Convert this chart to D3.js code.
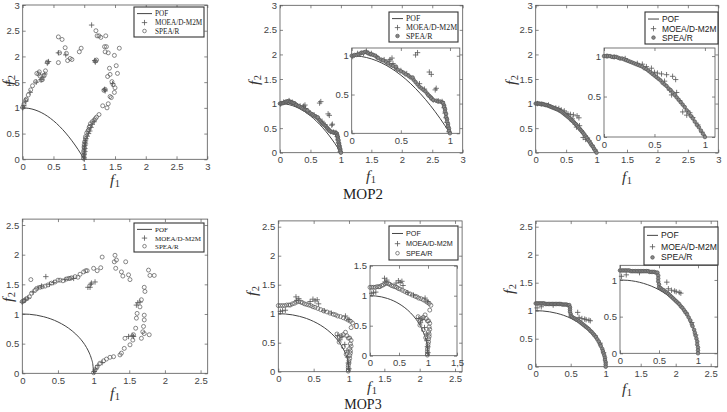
<!DOCTYPE html>
<html><head><meta charset="utf-8">
<script src="https://cdn.jsdelivr.net/npm/d3@7"></script>
<style>body{margin:0;background:#fff}svg{display:block}</style>
</head><body>
<script>
// ---------- tick values / labels ----------
const ticks0to3 = [0,0.5,1,1.5,2,2.5,3];
const ticks0to25 = [0,0.5,1,1.5,2,2.5];
const insetTicks = [0,0.5,1];
const insetTicks15 = [0,0.5,1,1.5];
const insetTickLabels15 = ["0","0.5","1","1,5"];
const seriesNames = ["POF","MOEA/D-M2M","SPEA/R"];
const titles = ["MOP2","MOP3"];

// ---------- Pareto optimal fronts ----------
const pofMOP2 = [[0,1],[0.1,0.99],[0.2,0.96],[0.3,0.91],[0.4,0.84],[0.5,0.75],[0.6,0.64],[0.7,0.51],[0.8,0.36],[0.9,0.19],[1,0]];
const pofMOP3 = [[0,1],[0.1,0.995],[0.2,0.98],[0.3,0.954],[0.4,0.917],[0.5,0.866],[0.6,0.8],[0.7,0.714],[0.8,0.6],[0.85,0.527],[0.9,0.436],[0.94,0.341],[0.97,0.243],[0.99,0.141],[1,0]];

// ---------- MOP2, panel A ----------
const mop2A_m2m = [[1.12,2.61],[0.42,1.90],[0.40,1.87],[1.17,1.92],[1.18,1.89],[1.33,1.36],[1.34,1.33],[1.46,1.47],[0.70,2.03],[0.58,2.07],[0.30,1.55],[0.33,1.60],[0.36,1.66],[0.05,1.13],[0.02,1.04],[0.00,1.00],[0.12,1.30],[0.22,1.50],
[1.00,0.00],[1.00,0.03],[0.99,0.06],[1.00,0.09],[1.00,0.12],[1.01,0.15],[1.00,0.18],[1.01,0.21],[1.00,0.24],[1.01,0.27],[1.02,0.30],[1.01,0.33],[1.02,0.36],[1.03,0.40],[1.05,0.45],[1.07,0.50],[1.09,0.55],[1.11,0.62],[1.13,0.68],[1.16,0.73]];
const mop2A_spea = [[0.00,1.01],[0.02,1.07],[0.05,1.15],[0.06,1.17],[0.09,1.25],[0.13,1.35],[0.16,1.43],[0.21,1.51],[0.23,1.67],[0.26,1.66],[0.28,1.62],[0.27,1.70],[0.30,1.54],[0.32,1.55],[0.35,1.63],[0.37,1.72],[0.40,1.89],
[0.58,2.38],[0.64,2.33],[0.60,2.07],[0.58,1.88],[0.69,2.17],[0.71,2.06],[0.73,1.92],[0.77,1.96],[0.80,1.94],[0.92,2.09],[0.95,2.16],
[1.19,2.50],[1.21,2.40],[1.24,2.40],[1.27,2.37],[1.35,2.40],[1.33,2.19],[1.36,2.19],[1.34,2.09],[1.39,2.07],[1.49,2.02],[1.52,1.82],[1.54,1.67],[1.57,2.16],[1.41,1.77],[1.38,1.61],[1.42,1.65],[1.45,1.51],[1.47,1.45],[1.50,1.39],[1.49,1.30],[1.42,1.22],[1.44,1.20],[1.30,1.04],[1.37,1.00],[1.39,1.08],[1.32,1.34],[1.34,1.36],[1.18,1.91],[1.20,1.93],
[0.99,0.02],[0.99,0.08],[0.99,0.15],[1.00,0.22],[1.00,0.28],[1.01,0.34],[1.02,0.40],[1.02,0.44],[1.04,0.51],[1.06,0.55],[1.07,0.57],[1.08,0.62],[1.09,0.64],[1.10,0.69],[1.13,0.73],[1.16,0.76],[1.18,0.79],[1.20,0.82],[1.24,0.87]];

// ---------- MOP2, panel B ----------
const mop2B_m2m = [[0.01,0.99],[0.06,1.03],[0.12,1.03],[0.15,1.06],[0.20,1.03],[0.25,0.99],[0.33,0.95],[0.39,0.95],[0.41,0.97],[0.42,0.90],[0.38,0.93],[0.50,0.81],[0.56,0.77],[0.65,1.01],[0.67,1.04],[0.69,0.64],[0.74,0.57],[0.79,0.79],[0.81,0.76],[0.85,0.56],[0.86,0.58],[0.83,0.43],[0.80,0.47],[0.88,0.42],[0.92,0.41],[0.94,0.33],[0.95,0.26],[0.96,0.20],[0.97,0.14],[0.98,0.08],[0.99,0.02]];
const mop2B_spea = [[0.00,1.00],[0.02,1.00],[0.03,1.01],[0.05,1.01],[0.07,1.02],[0.09,1.03],[0.10,1.04],[0.12,1.04],[0.14,1.05],[0.16,1.04],[0.17,1.03],[0.19,1.02],[0.20,1.02],[0.22,1.01],[0.24,1.00],[0.26,0.98],[0.27,0.97],[0.30,0.95],[0.32,0.94],[0.35,0.92],[0.37,0.90],[0.40,0.88],[0.42,0.87],[0.45,0.84],[0.47,0.82],[0.50,0.80],[0.53,0.78],[0.55,0.76],[0.58,0.74],[0.60,0.72],[0.63,0.69],[0.65,0.66],[0.67,0.63],[0.69,0.60],[0.71,0.58],[0.73,0.56],[0.75,0.54],[0.77,0.51],[0.78,0.49],[0.80,0.47],[0.81,0.45],[0.83,0.43],[0.86,0.42],[0.88,0.41],[0.90,0.41],[0.92,0.40],[0.93,0.39],[0.94,0.36],[0.94,0.34],[0.95,0.31],[0.95,0.28],[0.96,0.25],[0.96,0.21],[0.97,0.18],[0.97,0.15],[0.98,0.12],[0.98,0.09],[0.99,0.06],[0.99,0.03],[1.00,0.00],[0.45,0.86],[0.62,0.72]];

// ---------- MOP2, panel C ----------
const mop2C_m2m = [[0.03,1.00],[0.10,0.99],[0.21,0.97],[0.33,0.91],[0.38,0.90],[0.42,0.87],[0.47,0.85],[0.50,0.80],[0.53,0.79],[0.57,0.78],[0.60,0.69],[0.62,0.77],[0.65,0.58],[0.67,0.52],[0.68,0.75],[0.71,0.71],[0.72,0.55],[0.75,0.45],[0.78,0.31],[0.82,0.27],[0.85,0.30],[0.88,0.24],[0.93,0.15],[0.97,0.06]];
const mop2C_spea = [[0.00,1.00],[0.02,1.00],[0.04,1.00],[0.06,1.00],[0.08,0.99],[0.10,0.99],[0.12,0.99],[0.14,0.98],[0.16,0.97],[0.18,0.97],[0.20,0.96],[0.22,0.95],[0.24,0.94],[0.26,0.93],[0.28,0.92],[0.30,0.91],[0.32,0.90],[0.34,0.89],[0.36,0.88],[0.38,0.87],[0.40,0.85],[0.42,0.84],[0.44,0.82],[0.46,0.80],[0.48,0.78],[0.50,0.76],[0.52,0.74],[0.54,0.72],[0.56,0.70],[0.58,0.67],[0.60,0.65],[0.62,0.63],[0.64,0.60],[0.66,0.58],[0.68,0.55],[0.70,0.52],[0.72,0.49],[0.74,0.46],[0.76,0.43],[0.78,0.40],[0.80,0.37],[0.82,0.33],[0.84,0.30],[0.86,0.26],[0.88,0.23],[0.90,0.19],[0.92,0.15],[0.94,0.12],[0.96,0.08],[0.98,0.04],[1.00,0.00]];

// ---------- MOP3, panel A ----------
const mop3A_m2m = [[0.00,1.20],[0.04,1.24],[0.08,1.27],[0.15,1.37],[0.22,1.44],[0.27,1.47],[0.33,1.63],[0.38,1.50],[0.44,1.53],[0.60,1.58],[0.72,1.60],[0.92,1.45],[0.95,1.45],[0.96,1.50],[0.97,1.52],[1.02,1.54],[1.60,1.15],[1.62,1.19],[1.65,1.20],[1.56,0.62],[1.54,0.64],[1.49,0.62],[1.01,0.03],[1.03,0.07],[1.06,0.13],[1.12,0.18]];
const mop3A_spea = [[0.00,1.21],[0.02,1.22],[0.03,1.23],[0.06,1.26],[0.10,1.29],[0.12,1.58],[0.13,1.35],[0.18,1.40],[0.20,1.43],[0.25,1.45],[0.28,1.46],[0.32,1.47],[0.36,1.49],[0.41,1.52],[0.46,1.54],[0.50,1.57],[0.53,1.57],[0.57,1.56],[0.62,1.59],[0.65,1.60],[0.67,1.60],[0.69,1.61],[0.74,1.63],[0.78,1.62],[0.81,1.67],[0.86,1.71],[0.89,1.73],[0.91,1.73],[1.00,1.77],[1.05,1.73],[1.10,1.78],[1.12,1.96],[1.30,1.99],[1.29,1.88],[1.32,1.91],[1.31,1.77],[1.45,1.88],[1.39,1.71],[1.41,1.64],[1.49,1.66],[1.51,1.58],[1.77,1.74],[1.79,1.65],[1.85,1.65],
[1.71,1.45],[1.72,1.38],[1.67,1.24],[1.65,1.12],[1.61,1.01],[1.60,0.93],[1.71,0.98],[1.71,0.90],[1.70,0.79],[1.69,0.70],[1.71,0.67],[1.67,0.59],[1.78,0.65],[1.59,0.76],[1.55,0.56],[1.56,0.65],[1.51,0.48],[1.44,0.59],[1.43,0.42],[1.39,0.34],[1.37,0.31],[1.28,0.28],[1.23,0.27],[1.18,0.24],[1.14,0.21],[1.09,0.17],[1.05,0.11],[1.02,0.06],[1.00,0.01]];

// ---------- MOP3, panel B ----------
const mop3B_m2m = [[0.03,1.04],[0.06,1.05],[0.10,1.06],[0.25,1.29],[0.26,1.23],[0.29,1.26],[0.45,1.21],[0.49,1.25],[0.52,1.22],[0.55,1.24],[0.57,1.17],[0.65,1.05],[0.75,1.01],[0.95,0.96],[1.00,0.90],[0.84,0.62],[0.87,0.55],[0.90,0.60],[0.94,0.47],[0.97,0.36],[0.98,0.25],[0.99,0.15],[1.00,0.05]];
const mop3B_spea = [[0.00,1.14],[0.03,1.14],[0.06,1.14],[0.09,1.14],[0.12,1.15],[0.15,1.15],[0.17,1.15],[0.20,1.17],[0.23,1.18],[0.26,1.20],[0.29,1.21],[0.32,1.20],[0.34,1.19],[0.37,1.17],[0.40,1.16],[0.43,1.15],[0.46,1.14],[0.49,1.12],[0.52,1.11],[0.56,1.09],[0.60,1.07],[0.64,1.05],[0.69,1.03],[0.73,1.01],[0.78,0.99],[0.81,0.98],[0.84,0.96],[0.88,0.95],[0.92,0.93],[0.96,0.91],[0.99,0.89],[1.02,0.87],[1.05,0.84],
[0.83,0.65],[0.86,0.60],[0.89,0.62],[0.92,0.64],[0.95,0.68],[0.97,0.62],[0.99,0.58],[1.01,0.58],[1.03,0.54],[1.02,0.48],[1.03,0.44],[1.01,0.40],[1.02,0.36],[1.02,0.32],[1.01,0.28],[1.01,0.23],[1.00,0.19],[1.00,0.15],[0.99,0.11],[0.99,0.07],[0.99,0.03],[0.99,0.01],[1.03,0.76],[0.86,0.51],[0.92,0.43],[0.96,0.30]];

// ---------- MOP3, panel C ----------
const mop3C_m2m = [[0.02,1.05],[0.08,1.07],[0.25,1.10],[0.60,0.97],[0.62,0.88],[0.66,0.86],[0.70,0.85],[0.72,0.84],[0.76,0.83],[0.78,0.82],[0.85,0.55],[0.92,0.42],[0.97,0.25]];
const mop3C_spea = [[0.00,1.13],[0.02,1.13],[0.04,1.13],[0.06,1.13],[0.08,1.13],[0.10,1.13],[0.12,1.13],[0.14,1.12],[0.16,1.12],[0.18,1.12],[0.20,1.12],[0.22,1.12],[0.24,1.12],[0.26,1.12],[0.28,1.12],[0.30,1.12],[0.32,1.12],[0.34,1.12],[0.36,1.12],[0.38,1.11],[0.40,1.11],[0.42,1.11],[0.44,1.11],[0.46,1.10],[0.48,1.10],
[0.49,1.06],[0.49,1.02],[0.49,0.98],[0.50,0.94],[0.50,0.90],
[0.52,0.89],[0.54,0.87],[0.56,0.86],[0.58,0.84],[0.60,0.83],[0.62,0.81],[0.64,0.79],[0.66,0.77],[0.68,0.75],[0.70,0.73],[0.72,0.71],[0.74,0.69],[0.76,0.67],[0.78,0.64],[0.80,0.62],[0.82,0.59],[0.84,0.56],[0.86,0.53],[0.88,0.49],[0.90,0.45],[0.92,0.40],[0.93,0.37],[0.95,0.32],[0.96,0.28],[0.97,0.24],[0.98,0.20],[0.99,0.16],[0.99,0.12],[1.00,0.08],[1.00,0.04],[1.00,0.00]];

// ---------- layout ----------
const SANS = "'Liberation Sans', Arial, sans-serif";
const SERIF = "'Liberation Serif', 'Times New Roman', serif";
const panels = [
 {pof:pofMOP2, m2m:mop2A_m2m, spea:mop2A_spea, filled:false,
  main:{xr:[22.7,207.3], yr:[159.3,5], xd:[0,3], yd:[0,3], xt:ticks0to3, yt:ticks0to3},
  legend:{x:134,y:7,w:70,h:30,font:SERIF,fs:7.2,tdx:21}, f1:[115,185], f2:[13,80]},
 {pof:pofMOP2, m2m:mop2B_m2m, spea:mop2B_spea, filled:true,
  main:{xr:[280,462.7], yr:[152.7,5.3], xd:[0,3], yd:[0,3], xt:ticks0to3, yt:ticks0to3},
  inset:{xr:[351.7,459.8], yr:[133.3,48], xd:[0,1.1], yd:[0,1.1], xt:insetTicks, yt:insetTicks},
  legend:{x:389,y:12,w:69,h:30,font:SERIF,fs:7.8,tdx:17}, f1:[371,181], f2:[259,80], title:[363,199,titles[0]]},
 {pof:pofMOP2, m2m:mop2C_m2m, spea:mop2C_spea, filled:true,
  main:{xr:[535.7,718.3], yr:[152.7,5.3], xd:[0,3], yd:[0,3], xt:ticks0to3, yt:ticks0to3},
  inset:{xr:[604,715], yr:[137,48], xd:[0,1.1], yd:[0,1.1], xt:insetTicks, yt:insetTicks},
  legend:{x:645,y:12,w:73,h:32,font:SANS,fs:8.4,tdx:17}, f1:[627,182], f2:[516,80]},
 {pof:pofMOP3, m2m:mop3A_m2m, spea:mop3A_spea, filled:false,
  main:{xr:[22.3,207.7], yr:[373.3,219.1], xd:[0,2.6], yd:[0,2.6], xt:ticks0to25, yt:ticks0to25},
  legend:{x:134,y:223,w:70,h:29,font:SERIF,fs:7.0,tdx:21}, f1:[115,398], f2:[13,297]},
 {pof:pofMOP3, m2m:mop3B_m2m, spea:mop3B_spea, filled:false,
  main:{xr:[278.3,462.1], yr:[371.7,220.9], xd:[0,2.6], yd:[0,2.6], xt:ticks0to25, yt:ticks0to25},
  inset:{xr:[370,457], yr:[355.7,265.7], xd:[0,1.5], yd:[0,1.5], xt:insetTicks15, yt:insetTicks15, xl:insetTickLabels15},
  legend:{x:389,y:226,w:69,h:34,font:SANS,fs:7.2,tdx:17}, f1:[372,391.5], f2:[257,291], title:[363,408.8,titles[1]], titleSize:14},
 {pof:pofMOP3, m2m:mop3C_m2m, spea:mop3C_spea, filled:true,
  main:{xr:[535.7,717.7], yr:[366.7,221.1], xd:[0,2.6], yd:[0,2.6], xt:ticks0to25, yt:ticks0to25},
  inset:{xr:[620,717.5], yr:[353.3,265.3], xd:[0,1.25], yd:[0,1.2], xt:insetTicks, yt:insetTicks},
  legend:{x:644,y:227,w:74,h:38,font:SANS,fs:8.6,tdx:17}, f1:[627,394], f2:[514,289]}
];

const svg = d3.select("body").append("svg").attr("width",727).attr("height",412)
  .style("font-family", SANS);

const AX = "#555", MK = "#555";
const plusPath = "M-2.7,0H2.7M0,-2.7V2.7";

function drawAxes(g, a){
  const sx = d3.scaleLinear().domain(a.xd).range(a.xr);
  const sy = d3.scaleLinear().domain(a.yd).range(a.yr);
  g.append("rect").attr("x",a.xr[0]).attr("y",a.yr[1]).attr("width",a.xr[1]-a.xr[0])
    .attr("height",a.yr[0]-a.yr[1]).attr("fill","#fff").attr("stroke",AX).attr("stroke-width",0.8);
  const fmt = a.xl ? ((d,i)=>a.xl[i]) : (d=>String(d));
  const style = sel => { sel.select(".domain").remove();
    sel.selectAll("line").attr("stroke",AX).attr("stroke-width",0.7);
    sel.selectAll("text").attr("fill","#444").style("font-size","9.5px").style("font-family",SANS); };
  g.append("g").attr("transform",`translate(0,${a.yr[0]})`)
    .call(d3.axisBottom(sx).tickValues(a.xt).tickSize(-3).tickPadding(4).tickFormat(fmt)).call(style);
  g.append("g").attr("transform",`translate(0,${a.yr[1]})`)
    .call(d3.axisTop(sx).tickValues(a.xt).tickSize(-3).tickFormat("")).call(style);
  g.append("g").attr("transform",`translate(${a.xr[0]},0)`)
    .call(d3.axisLeft(sy).tickValues(a.yt).tickSize(-3).tickPadding(3).tickFormat(d=>String(d))).call(style);
  g.append("g").attr("transform",`translate(${a.xr[1]},0)`)
    .call(d3.axisRight(sy).tickValues(a.yt).tickSize(-3).tickFormat("")).call(style);
  return {sx, sy};
}

function drawData(g, p, s){
  const line = d3.line().x(d=>s.sx(d[0])).y(d=>s.sy(d[1])).curve(d3.curveMonotoneX);
  g.append("path").datum(p.pof).attr("d",line).attr("fill","none").attr("stroke","#444").attr("stroke-width",1);
  g.append("g").selectAll("path").data(p.m2m).join("path")
    .attr("transform",d=>`translate(${s.sx(d[0])},${s.sy(d[1])})`).attr("d",plusPath)
    .attr("stroke",MK).attr("stroke-width",0.8).attr("fill","none");
  g.append("g").selectAll("circle").data(p.spea).join("circle")
    .attr("cx",d=>s.sx(d[0])).attr("cy",d=>s.sy(d[1])).attr("r",p.filled?1.8:2.0)
    .attr("fill",p.filled?"#888":"none").attr("stroke",MK).attr("stroke-width",0.7);
}

function drawLegend(g, L, filled){
  g.append("rect").attr("x",L.x).attr("y",L.y).attr("width",L.w).attr("height",L.h)
    .attr("fill","#fff").attr("stroke","#333").attr("stroke-width",1.1);
  const rows = [0.22,0.52,0.8].map(f=>L.y+L.h*f);
  const mx = L.x + (L.tdx-2)/2 + 1;
  g.append("line").attr("x1",L.x+3).attr("x2",L.x+L.tdx-3).attr("y1",rows[0]).attr("y2",rows[0])
    .attr("stroke","#444").attr("stroke-width",1);
  g.append("path").attr("transform",`translate(${mx},${rows[1]})`).attr("d",plusPath)
    .attr("stroke",MK).attr("stroke-width",0.8);
  g.append("circle").attr("cx",mx).attr("cy",rows[2]).attr("r",1.8)
    .attr("fill",filled?"#888":"none").attr("stroke",MK).attr("stroke-width",0.7);
  seriesNames.forEach((n,i)=>{
    g.append("text").attr("x",L.x+L.tdx).attr("y",rows[i]).attr("dy","0.35em")
      .style("font-family",L.font).style("font-size",L.fs+"px").attr("fill","#222").text(n);
  });
}

function fLabel(g, x, y, sub, rotate){
  const t = g.append("text").attr("text-anchor","middle").style("font-family",SERIF)
    .attr("fill","#333")
    .attr("transform", rotate ? `translate(${x},${y}) rotate(-90)` : `translate(${x},${y})`);
  t.append("tspan").style("font-style","italic").style("font-size","15.5px").text("f");
  t.append("tspan").style("font-size","10.5px").attr("dy",2).attr("dx",0.5).text(sub);
}

panels.forEach(p=>{
  const g = svg.append("g");
  const s = drawAxes(g, p.main);
  drawData(g, p, s);
  if (p.inset){
    const gi = g.append("g");
    const si = drawAxes(gi, p.inset);
    drawData(gi, p, si);
  }
  drawLegend(g, p.legend, p.filled);
  fLabel(g, p.f1[0], p.f1[1], "1", false);
  fLabel(g, p.f2[0], p.f2[1], "2", true);
  if (p.title){
    g.append("text").attr("x",p.title[0]).attr("y",p.title[1]).attr("text-anchor","middle")
      .style("font-family",SERIF).style("font-size",(p.titleSize||15)+"px").attr("fill","#222").text(p.title[2]);
  }
});
</script>
</body></html>
